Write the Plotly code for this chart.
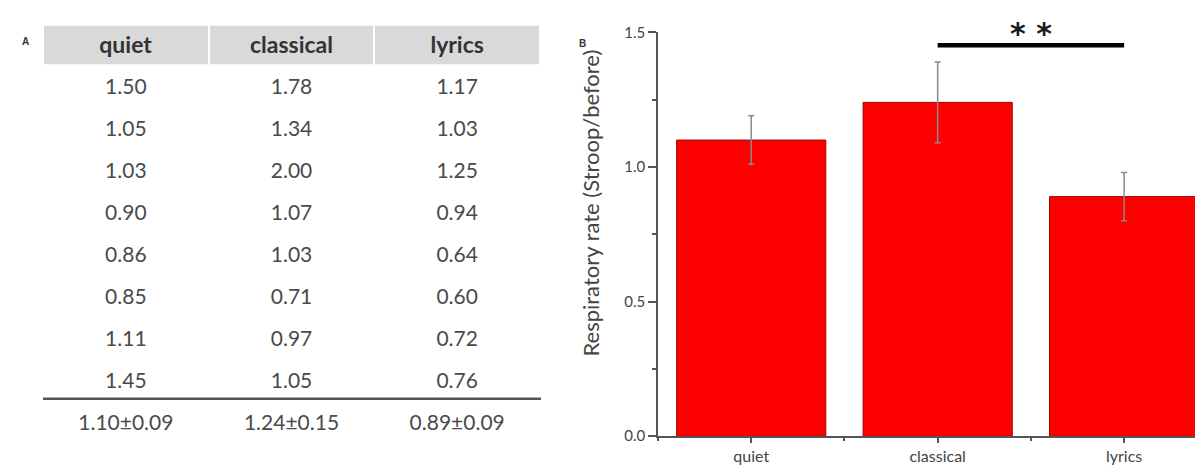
import plotly.graph_objects as go

# ---- data ----
categories = ["quiet", "classical", "lyrics"]
quiet_vals = [1.50, 1.05, 1.03, 0.90, 0.86, 0.85, 1.11, 1.45]
classical_vals = [1.78, 1.34, 2.00, 1.07, 1.03, 0.71, 0.97, 1.05]
lyrics_vals = [1.17, 1.03, 1.25, 0.94, 0.64, 0.60, 0.72, 0.76]
means = [1.10, 1.24, 0.89]
sems = [0.09, 0.15, 0.09]
y_ticks = [0.0, 0.5, 1.0, 1.5]
sig_pair = ("classical", "lyrics")
sig_label = "* *"

W, H = 1203, 466

columns = [quiet_vals, classical_vals, lyrics_vals]
cell_values = []
for col, m, s in zip(columns, means, sems):
    cell_values.append([f"{v:.2f}" for v in col] + [f"{m:.2f}±{s:.2f}"])

fig = go.Figure()

# grey header band (drawn under the table)
fig.add_shape(type="rect", xref="paper", yref="paper", layer="below",
              x0=35 / W, x1=533 / W, y0=1 - 48 / H, y1=1 - 8 / H,
              fillcolor="#d9d9d9", line=dict(width=0))

fig.add_trace(go.Table(
    domain=dict(x=[35 / W, 533 / W], y=[0, 1 - 4 / H]),
    columnwidth=[1, 1, 1],
    header=dict(
        values=[f"<b>{c}</b>" for c in categories],
        fill_color="rgba(0,0,0,0)",
        line=dict(color="white", width=2),
        font=dict(family="Lato", size=23, color="#333333"),
        align="center",
        height=48,
    ),
    cells=dict(
        values=cell_values,
        fill_color="rgba(0,0,0,0)",
        line=dict(color="rgba(0,0,0,0)", width=0),
        font=dict(family="Lato", size=21, color="#4a4a4a"),
        align="center",
        height=42,
    ),
))

xs = list(range(len(categories)))
fig.add_trace(go.Bar(
    x=xs, y=means, width=0.8,
    marker=dict(color="#ff0000", line=dict(color="#a00000", width=1)),
    error_y=dict(type="data", array=sems, visible=True,
                 color="#8a8a8a", thickness=1.5, width=3),
    showlegend=False,
))

i0 = categories.index(sig_pair[0])
i1 = categories.index(sig_pair[1])
fig.add_shape(type="line", xref="x", yref="y", x0=i0, x1=i1, y0=1.452, y1=1.452,
              line=dict(color="black", width=4.5))
fig.add_annotation(x=(i0 + i1) / 2, y=1.452, xref="x", yref="y", text=f"<b>{sig_label}</b>",
                   showarrow=False, yanchor="bottom", yshift=-8,
                   font=dict(family="DejaVu Sans", size=30, color="#1a1a1a"))

# table separator line above the mean row
fig.add_shape(type="line", xref="paper", yref="paper",
              x0=35 / W, x1=533 / W, y0=1 - 396 / H, y1=1 - 396 / H,
              line=dict(color="#555555", width=2.5))

# panel labels
fig.add_annotation(x=12 / W, y=1 - 17 / H, xref="paper", yref="paper", text="<b>A</b>",
                   showarrow=False, font=dict(family="Liberation Sans", size=10, color="#333"))
fig.add_annotation(x=574 / W, y=1 - 19 / H, xref="paper", yref="paper", text="<b>B</b>",
                   showarrow=False, font=dict(family="Liberation Sans", size=10, color="#333"))
# y axis title
fig.add_annotation(x=583 / W, y=1 - 193 / H, xref="paper", yref="paper",
                   text="Respiratory rate (Stroop/before)", textangle=-90, showarrow=False,
                   font=dict(family="Lato", size=22, color="#444"))

fig.update_layout(
    width=W, height=H,
    margin=dict(l=0, r=0, t=0, b=0),
    paper_bgcolor="white", plot_bgcolor="white",
    showlegend=False,
    xaxis=dict(
        domain=[650 / W, 1.0], range=[-0.5, 2.466],
        tickvals=xs, ticktext=categories,
        ticks="outside", ticklen=5, tickcolor="#555", tickwidth=1.5,
        showline=True, linecolor="#555", linewidth=1.5,
        showgrid=False, zeroline=False,
        tickfont=dict(family="Lato", size=16, color="#444"),
        minor=dict(dtick=0.5, tick0=0, ticks="outside", ticklen=3, tickcolor="#555"),
        fixedrange=True,
    ),
    yaxis=dict(
        domain=[(H - 435) / H, (H - 15) / H], range=[0, 1.5],
        tickvals=y_ticks, tickformat=".1f",
        ticks="outside", ticklen=8, tickcolor="#555", tickwidth=1.5,
        showline=True, linecolor="#555", linewidth=1.5,
        showgrid=False, zeroline=False,
        tickfont=dict(family="Lato", size=15, color="#444"),
        minor=dict(dtick=0.25, ticks="outside", ticklen=4, tickcolor="#555"),
        fixedrange=True,
    ),
)

fig.write_html("out.html")
